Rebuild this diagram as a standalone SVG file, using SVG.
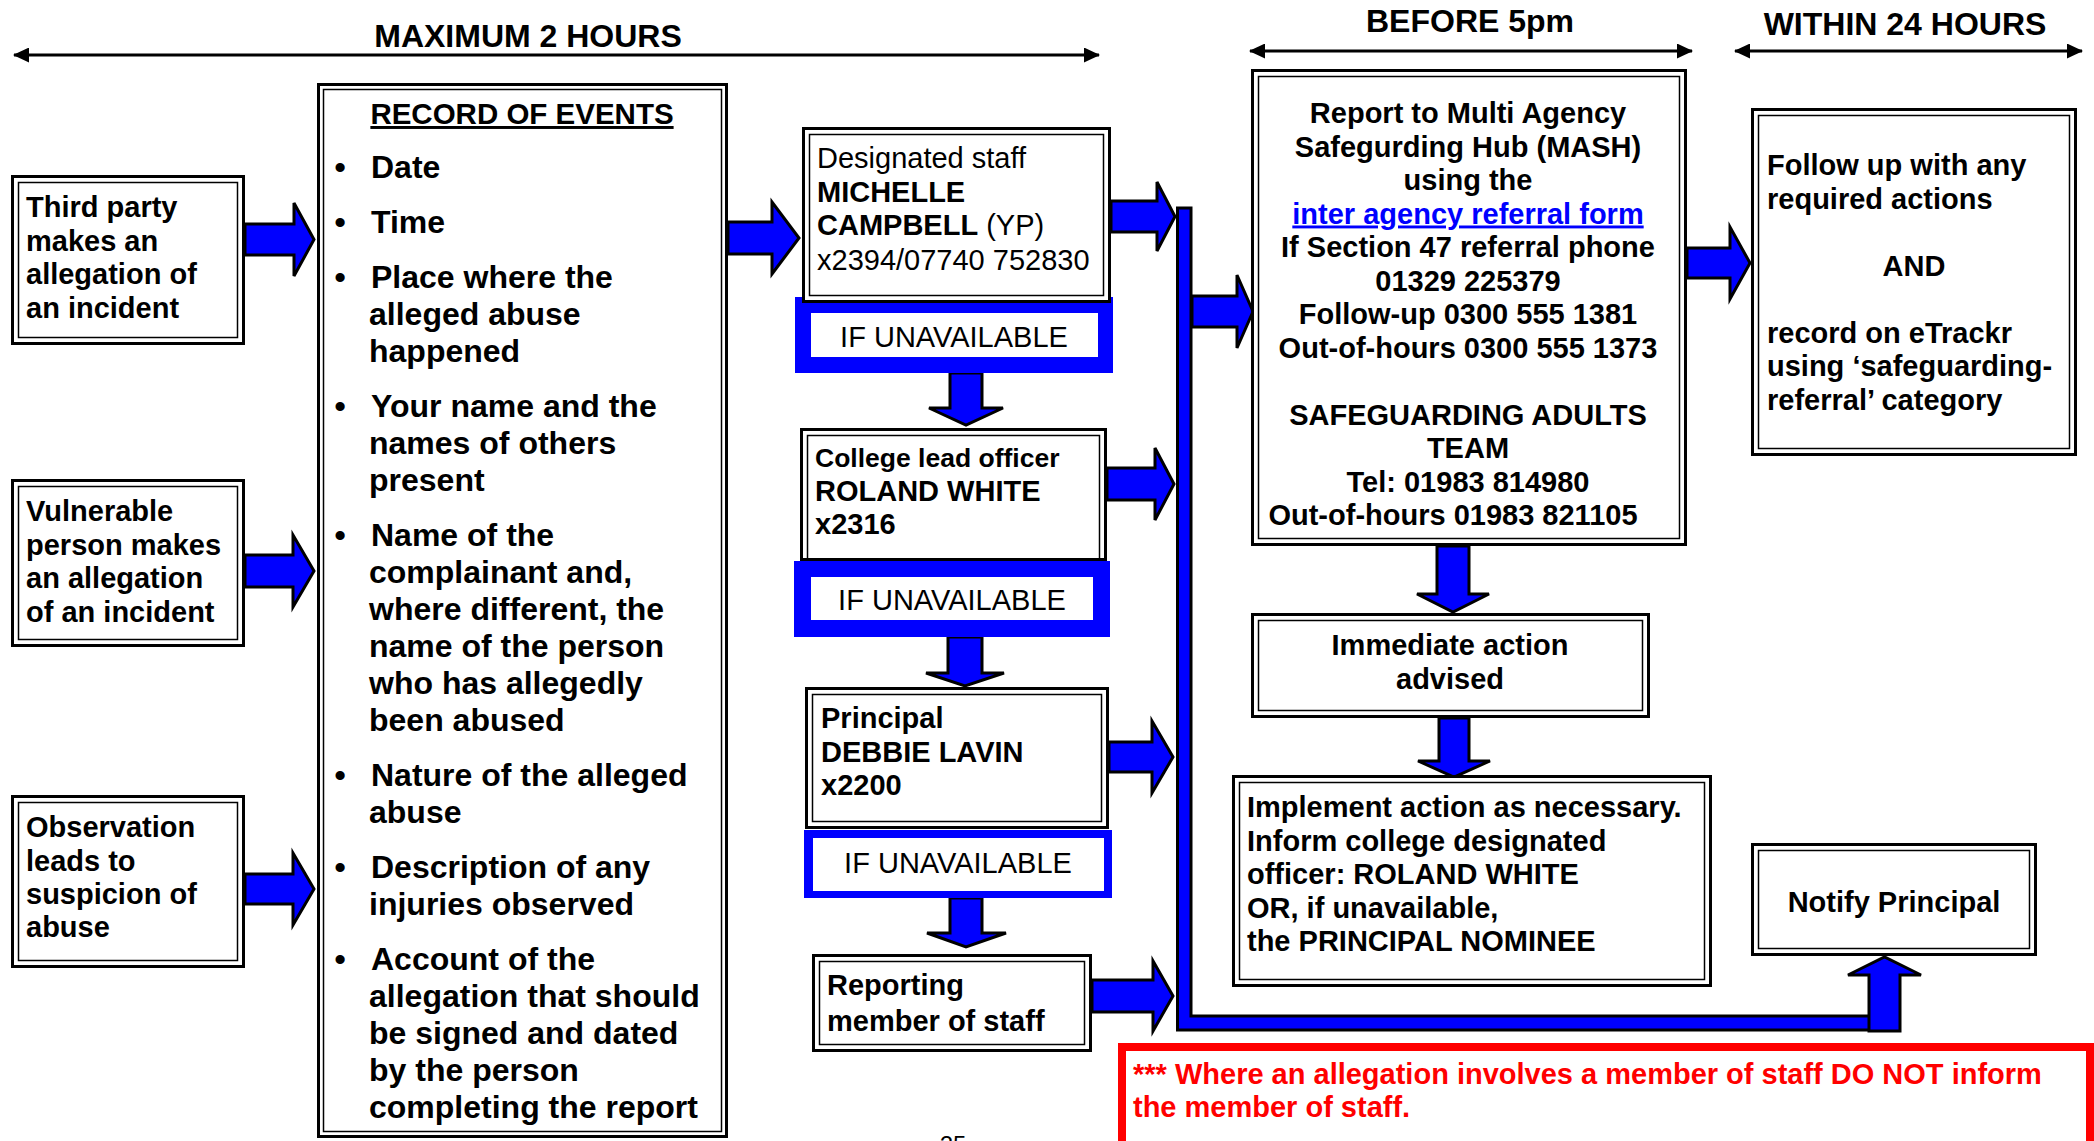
<svg xmlns="http://www.w3.org/2000/svg" width="2094" height="1141" viewBox="0 0 2094 1141">
<style>
text{font-family:"Liberation Sans",Arial,Helvetica,sans-serif;fill:#000}
.b{font-weight:bold}
.f29{font-size:29px}
.f32{font-size:32px}
.mid{text-anchor:middle}
.outer{fill:#fff;stroke:#000;stroke-width:3}
.inner{fill:none;stroke:#000;stroke-width:1.5}
.arr{fill:#0000ff;stroke:#000;stroke-width:3;stroke-linejoin:miter}
.bar{fill:#0000ff;stroke:#000;stroke-width:3}
.unav{fill:#0000ff}
.unin{fill:#fff}
.span{stroke:#000;stroke-width:3;fill:none}
.red{fill:#ff0000}
</style>
<defs>
<marker id="ah" viewBox="0 0 16 15" refX="15" refY="7.5" markerWidth="16" markerHeight="15" markerUnits="userSpaceOnUse" orient="auto-start-reverse">
<path d="M0,0 L16,7.5 L0,15 Z" fill="#000"/>
</marker>
</defs>
<rect width="2094" height="1141" fill="#fff"/>

<g id="timeline">
<text class="b f32 mid" x="528" y="47">MAXIMUM 2 HOURS</text>
<line class="span" x1="14" y1="55" x2="1099" y2="55" marker-start="url(#ah)" marker-end="url(#ah)"/>
<text class="b f32 mid" x="1470" y="32">BEFORE 5pm</text>
<line class="span" x1="1250" y1="51" x2="1692" y2="51" marker-start="url(#ah)" marker-end="url(#ah)"/>
<text class="b f32 mid" x="1905" y="35">WITHIN 24 HOURS</text>
<line class="span" x1="1735" y1="51" x2="2082" y2="51" marker-start="url(#ah)" marker-end="url(#ah)"/>
</g>

<g id="connectors">
<polygon class="bar" points="1177.5,208 1191,208 1191,1016 1871,1016 1871,1030 1177.5,1030"/>
<polygon class="arr" points="245,224 294,224 294,203 314,239.5 294,276 294,255 245,255"/>
<polygon class="arr" points="245,555 293,555 293,535 314,571 293,607 293,587 245,587"/>
<polygon class="arr" points="245,874 293,874 293,853 314,889 293,925 293,904 245,904"/>
<polygon class="arr" points="728,222 772,222 772,202 799,238 772,274 772,254 728,254"/>
<polygon class="arr" points="1111,201 1157,201 1157,182 1175,216.5 1157,251 1157,232 1111,232"/>
<polygon class="arr" points="1107,468 1155,468 1155,448 1174,484 1155,520 1155,500 1107,500"/>
<polygon class="arr" points="1109,742 1152,742 1152,721 1173,757 1152,793 1152,772 1109,772"/>
<polygon class="arr" points="1092,980 1153,980 1153,961 1173,996 1153,1031 1153,1012 1092,1012"/>
<polygon class="arr" points="1192,296 1237,296 1237,275 1253,311.5 1237,348 1237,327 1192,327"/>
<polygon class="arr" points="1687,248 1730,248 1730,227 1750,263 1730,299 1730,278 1687,278"/>
<polygon class="arr" points="950,373 982,373 982,408 1003,408 966,425 929,408 950,408"/>
<polygon class="arr" points="948,637 982,637 982,673 1004,673 965,686 926,673 948,673"/>
<polygon class="arr" points="950,898 982,898 982,933 1006,933 966,947 927,933 950,933"/>
<polygon class="arr" points="1437,546 1469,546 1469,594 1489,594 1453,612 1417,594 1437,594"/>
<polygon class="arr" points="1439,718 1469,718 1469,761 1490,761 1454,777 1418,761 1439,761"/>
<polygon class="arr" points="1869,1031 1900,1031 1900,975 1921,975 1884.5,957 1848,975 1869,975"/>
</g>

<g id="third-party">
<rect class="outer" x="12.5" y="176.5" width="231" height="167"/>
<rect class="inner" x="18.5" y="182.5" width="219" height="155"/>
<text class="b f29" x="26" y="217">Third party</text>
<text class="b f29" x="26" y="251">makes an</text>
<text class="b f29" x="26" y="284">allegation of</text>
<text class="b f29" x="26" y="318">an incident</text>
</g>

<g id="vulnerable-person">
<rect class="outer" x="12.5" y="480.5" width="231" height="165"/>
<rect class="inner" x="18.5" y="486.5" width="219" height="153"/>
<text class="b f29" x="26" y="521">Vulnerable</text>
<text class="b f29" x="26" y="555">person makes</text>
<text class="b f29" x="26" y="588">an allegation</text>
<text class="b f29" x="26" y="622">of an incident</text>
</g>

<g id="observation">
<rect class="outer" x="12.5" y="796.5" width="231" height="170"/>
<rect class="inner" x="18.5" y="802.5" width="219" height="158"/>
<text class="b f29" x="26" y="837">Observation</text>
<text class="b f29" x="26" y="871">leads to</text>
<text class="b f29" x="26" y="904">suspicion of</text>
<text class="b f29" x="26" y="937">abuse</text>
</g>

<g id="record-of-events">
<rect class="outer" x="318.5" y="84.5" width="408" height="1052"/>
<rect class="inner" x="323.5" y="89.5" width="398" height="1042"/>
<text class="b mid" x="522" y="124" font-size="29.5" text-decoration="underline">RECORD OF EVENTS</text>
<g class="b f32">
<text class="mid" x="340" y="178">•</text><text x="371" y="178">Date</text>
<text class="mid" x="340" y="233">•</text><text x="371" y="233">Time</text>
<text class="mid" x="340" y="288">•</text><text x="371" y="288">Place where the</text>
<text x="369" y="325">alleged abuse</text>
<text x="369" y="362">happened</text>
<text class="mid" x="340" y="417">•</text><text x="371" y="417">Your name and the</text>
<text x="369" y="454">names of others</text>
<text x="369" y="491">present</text>
<text class="mid" x="340" y="546">•</text><text x="371" y="546">Name of the</text>
<text x="369" y="583">complainant and,</text>
<text x="369" y="620">where different, the</text>
<text x="369" y="657">name of the person</text>
<text x="369" y="694">who has allegedly</text>
<text x="369" y="731">been abused</text>
<text class="mid" x="340" y="786">•</text><text x="371" y="786">Nature of the alleged</text>
<text x="369" y="823">abuse</text>
<text class="mid" x="340" y="878">•</text><text x="371" y="878">Description of any</text>
<text x="369" y="915">injuries observed</text>
<text class="mid" x="340" y="970">•</text><text x="371" y="970">Account of the</text>
<text x="369" y="1007">allegation that should</text>
<text x="369" y="1044">be signed and dated</text>
<text x="369" y="1081">by the person</text>
<text x="369" y="1118">completing the report</text>
</g>
</g>

<g id="designated-staff">
<rect class="unav" x="795" y="297" width="318" height="76"/>
<rect class="unin" x="811" y="313" width="287" height="44"/>
<rect class="outer" x="803.5" y="128.5" width="306" height="173"/>
<rect class="inner" x="809.5" y="134.5" width="294" height="161"/>
<text class="f29" x="817" y="168">Designated staff</text>
<text class="b f29" x="817" y="202">MICHELLE</text>
<text class="f29" x="817" y="235"><tspan font-weight="bold">CAMPBELL</tspan> (YP)</text>
<text class="f29" x="817" y="270">x2394/07740 752830</text>
<text class="f29 mid" x="954" y="347">IF UNAVAILABLE</text>
</g>

<g id="college-lead-officer">
<rect class="unav" x="794" y="561" width="316" height="76"/>
<rect class="unin" x="811" y="577" width="282" height="43"/>
<rect class="outer" x="801.5" y="429.5" width="304" height="130"/>
<rect class="inner" x="807.5" y="435.5" width="292" height="124"/>
<text class="b" x="815" y="467" font-size="26.5">College lead officer</text>
<text class="b f29" x="815" y="501">ROLAND WHITE</text>
<text class="b f29" x="815" y="534">x2316</text>
<text class="f29 mid" x="952" y="610">IF UNAVAILABLE</text>
</g>

<g id="principal">
<rect class="unav" x="804" y="830" width="308" height="68"/>
<rect class="unin" x="813" y="838" width="291" height="53"/>
<rect class="outer" x="806.5" y="688.5" width="301" height="139"/>
<rect class="inner" x="812.5" y="694.5" width="289" height="127"/>
<text class="b f29" x="821" y="728">Principal</text>
<text class="b f29" x="821" y="762">DEBBIE LAVIN</text>
<text class="b f29" x="821" y="795">x2200</text>
<text class="f29 mid" x="958" y="873">IF UNAVAILABLE</text>
</g>

<g id="reporting-staff">
<rect class="outer" x="813.5" y="955.5" width="277" height="95"/>
<rect class="inner" x="819.5" y="961.5" width="265" height="83"/>
<text class="b f29" x="827" y="995">Reporting</text>
<text class="b f29" x="827" y="1031">member of staff</text>
</g>

<g id="mash">
<rect class="outer" x="1252.5" y="70.5" width="433" height="474"/>
<rect class="inner" x="1258.5" y="76.5" width="421" height="462"/>
<g class="b f29 mid">
<text x="1468" y="123">Report to Multi Agency</text>
<text x="1468" y="156.5">Safegurding Hub (MASH)</text>
<text x="1468" y="190">using the</text>
<text x="1468" y="223.5" style="fill:#0000ff" text-decoration="underline">inter agency referral form</text>
<text x="1468" y="257">If Section 47 referral phone</text>
<text x="1468" y="290.5">01329 225379</text>
<text x="1468" y="324">Follow-up 0300 555 1381</text>
<text x="1468" y="357.5">Out-of-hours 0300 555 1373</text>
<text x="1468" y="424.5">SAFEGUARDING ADULTS</text>
<text x="1468" y="458">TEAM</text>
<text x="1468" y="491.5">Tel: 01983 814980</text>
<text x="1453" y="525">Out-of-hours 01983 821105</text>
</g>
</g>

<g id="follow-up">
<rect class="outer" x="1752.5" y="109.5" width="323" height="345"/>
<rect class="inner" x="1758.5" y="115.5" width="311" height="333"/>
<g class="b f29">
<text x="1767" y="175">Follow up with any</text>
<text x="1767" y="208.5">required actions</text>
<text class="mid" x="1914" y="275.5">AND</text>
<text x="1767" y="342.5">record on eTrackr</text>
<text x="1767" y="376">using ‘safeguarding-</text>
<text x="1767" y="409.5">referral’ category</text>
</g>
</g>

<g id="immediate-action">
<rect class="outer" x="1252.5" y="614.5" width="396" height="102"/>
<rect class="inner" x="1258.5" y="620.5" width="384" height="90"/>
<text class="b f29 mid" x="1450" y="655">Immediate action</text>
<text class="b f29 mid" x="1450" y="689">advised</text>
</g>

<g id="implement-action">
<rect class="outer" x="1233.5" y="776.5" width="477" height="209"/>
<rect class="inner" x="1239.5" y="782.5" width="465" height="197"/>
<g class="b f29">
<text x="1247" y="817">Implement action as necessary.</text>
<text x="1247" y="850.5">Inform college designated</text>
<text x="1247" y="884">officer: ROLAND WHITE</text>
<text x="1247" y="917.5">OR, if unavailable,</text>
<text x="1247" y="951">the PRINCIPAL NOMINEE</text>
</g>
</g>

<g id="notify-principal">
<rect class="outer" x="1752.5" y="844.5" width="283" height="110"/>
<rect class="inner" x="1758.5" y="850.5" width="271" height="98"/>
<text class="b f29 mid" x="1894" y="912">Notify Principal</text>
</g>

<g id="staff-warning">
<rect x="1122" y="1047" width="968" height="150" fill="#fff" stroke="#ff0000" stroke-width="8"/>
<text class="b f29 red" x="1133" y="1084">*** Where an allegation involves a member of staff DO NOT inform</text>
<text class="b f29 red" x="1133" y="1117">the member of staff.</text>
</g>

<text x="953" y="1153" font-size="24" class="mid">25</text>
</svg>
